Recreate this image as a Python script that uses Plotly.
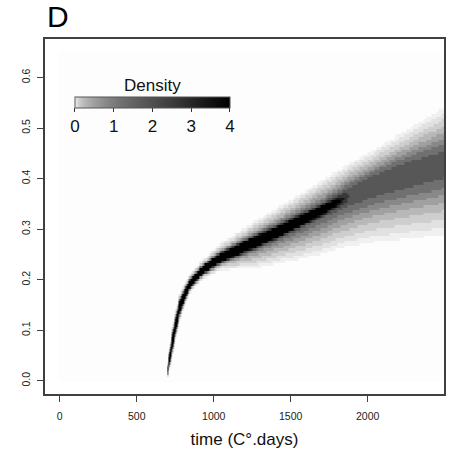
import numpy as np
import plotly.graph_objects as go

# --- values -------------------------------------------------------------
# knots along the density ridge (time in C°.days)
knot_time    = [700, 730, 775, 840, 925, 1055, 1270, 1485, 1700, 1820, 1880, 2024, 2240, 2500]
ridge_value  = [0.022, 0.075, 0.143, 0.190, 0.219, 0.245, 0.275, 0.305, 0.337, 0.357, 0.366, 0.387, 0.410, 0.430]
core_peak    = [12, 12, 12, 12, 12, 10, 8, 7, 5, 2.0, 0.6, 0.5, 0.3, 0.2]
core_spread  = [0.004, 0.008, 0.007, 0.0045, 0.004, 0.0055, 0.0070, 0.0066, 0.0066, 0.008, 0.012, 0.015, 0.020, 0.025]
halo_peak    = [0.8, 0.8, 0.8, 0.8, 0.8, 1.1, 1.5, 1.8, 1.9, 2.0, 2.0, 2.1, 2.2, 2.1]
halo_up      = [0.006, 0.011, 0.010, 0.0065, 0.0070, 0.0102, 0.0135, 0.0165, 0.0190, 0.0195, 0.0205, 0.0215, 0.0265, 0.0355]
halo_down    = [0.003, 0.011, 0.010, 0.0065, 0.0065, 0.0088, 0.0175, 0.0225, 0.0278, 0.0302, 0.032, 0.036, 0.041, 0.045]

density_levels = [0, 0.016, 0.04, 0.1, 0.24, 0.48, 0.8, 1.2, 1.8, 2.6, 3.4, 4.0]

x_ticks = [0, 500, 1000, 1500, 2000]
y_ticks = [0.0, 0.1, 0.2, 0.3, 0.4, 0.5, 0.6]
y_ticklabels = ["0.0", "0.1", "0.2", "0.3", "0.4", "0.5", "0.6"]
cbar_ticks = [0, 1, 2, 3, 4]

# --- density grid built from the ridge description ----------------------
t_grid = np.concatenate([np.arange(0, 900, 5), np.arange(900, 2501, 16)]).astype(float)
v_grid = np.arange(0.0, 0.6501, 0.005)

def knots(vals):
    return np.interp(t_grid, knot_time, vals)[None, :]

c = knots(ridge_value)
P = knots(core_peak)
sc = knots(core_spread)
H = knots(halo_peak)
hu = knots(halo_up)
hd = knots(halo_down)

V = v_grid[:, None]
d = V - c
sh = np.where(d >= 0, hu, hd)
Z = P * np.exp(-0.5 * (d / sc) ** 2) + H * np.exp(-0.5 * (d / sh) ** 2)
Z = np.where(t_grid[None, :] < 700, 0.0, Z)
Z = np.minimum(Z, 4.0)
lv = np.array(density_levels)
Zq = lv[np.clip(np.searchsorted(lv, Z, side="right") - 1, 0, len(lv) - 1)]

colorscale = [
    [0.0, "#fdfdfd"],
    [0.004, "#f0f0f0"],
    [0.01, "#e1e1e1"],
    [0.025, "#cecece"],
    [0.06, "#b8b8b8"],
    [0.12, "#a0a0a0"],
    [0.2, "#888888"],
    [0.3, "#707070"],
    [0.45, "#575757"],
    [0.65, "#383838"],
    [0.85, "#161616"],
    [1.0, "#000000"],
]

FONT = "Liberation Sans, Arial, sans-serif"
AX = "#404040"

fig = go.Figure()
fig.add_trace(go.Heatmap(
    x=t_grid, y=v_grid, z=Zq,
    zmin=0, zmax=4, zsmooth=False,
    colorscale=colorscale,
    hoverinfo="skip",
    colorbar=dict(
        orientation="h",
        x=(153 - 45) / 401, xanchor="center",
        y=(394 - 97) / 355, yanchor="top",
        lenmode="pixels", len=155,
        thickness=11,
        outlinewidth=1, outlinecolor="#555555",
        tickvals=cbar_ticks, ticks="outside", ticklen=4, tickcolor="#333",
        tickfont=dict(family=FONT, size=17, color="#111"),
        xpad=0, ypad=0,
    ),
))

fig.update_layout(
    width=450, height=455,
    margin=dict(l=45, r=4, t=39, b=61),
    paper_bgcolor="white", plot_bgcolor="white",
    font=dict(family=FONT, color="#222"),
    showlegend=False,
    xaxis=dict(
        range=[-96, 2496], tickvals=x_ticks,
        ticks="outside", ticklen=6, tickwidth=1, tickcolor=AX,
        showline=True, mirror=True, linecolor=AX, linewidth=1.5,
        showgrid=False, zeroline=False, ticklabelstandoff=6,
        tickfont=dict(family=FONT, size=10.5, color="#222"),
        title=dict(text="time (C°.days)", font=dict(family=FONT, size=17, color="#111"), standoff=12),
    ),
    yaxis=dict(
        range=[-0.026, 0.676], tickvals=y_ticks, ticktext=y_ticklabels,
        ticks="outside", ticklen=6, tickwidth=1, tickcolor=AX,
        showline=True, mirror=True, linecolor=AX, linewidth=1.5,
        showgrid=False, zeroline=False, tickangle=-90, ticklabelstandoff=3,
        tickfont=dict(family=FONT, size=10.5, color="#222"),
    ),
    annotations=[
        dict(text="D", xref="paper", yref="paper",
             x=(45 - 45) / 401, y=(394 - 16) / 355,
             xanchor="left", yanchor="middle", showarrow=False,
             font=dict(family=FONT, size=30, color="#000")),
        dict(text="Density", xref="paper", yref="paper",
             x=(153 - 45) / 401, y=(394 - 85) / 355,
             xanchor="center", yanchor="middle", showarrow=False,
             font=dict(family=FONT, size=17, color="#111")),
    ],
)

fig.write_html("out.html")
